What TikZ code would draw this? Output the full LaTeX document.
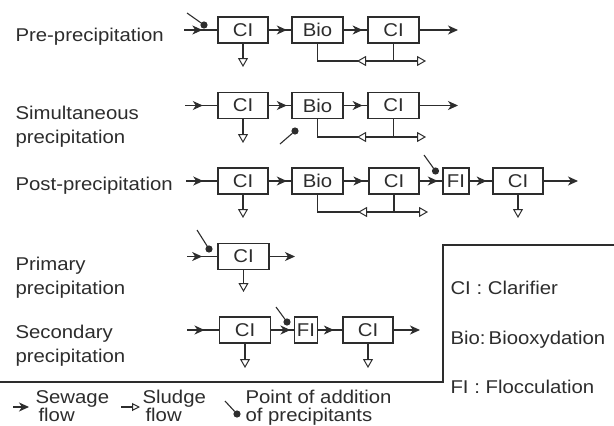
\documentclass[tikz,border=0pt]{standalone}
\usepackage{fontspec}
\setmainfont[FakeStretch=1.1]{Liberation Sans}
\usetikzlibrary{arrows.meta,decorations.markings}
\definecolor{ink}{RGB}{45,45,45}
\begin{document}
\begin{tikzpicture}[x=1pt,y=-1pt,draw=ink,line width=1.1pt,
  every node/.style={font=\fontsize{18.5}{22}\selectfont, text=ink},
  unit/.style={draw=ink, line width=1.3pt, minimum height=26pt, inner sep=0pt, minimum width=#1},
  unit/.default=50pt,
  lbl/.style={anchor=base west, inner sep=0pt},
  sew/.style={postaction={decorate}, decoration={markings, mark=at position #1 with {\arrow{Stealth[length=10pt,width=9pt,inset=3pt]}}}},
  sew/.default=0.7,
  sewend/.style={-{Stealth[length=10pt,width=9pt,inset=3pt]}},
  slend/.style={-{Triangle[length=9pt,width=10pt,fill=white,line width=1pt]}},
  slmid/.style={postaction={decorate}, decoration={markings, mark=at position #1 with {\arrow{Triangle[length=9pt,width=10pt,fill=white,line width=1pt]}}}},
  dot/.style={circle, fill=ink, draw=ink, inner sep=0pt, minimum size=6pt},
]
\useasboundingbox[fill=white] (0,0) rectangle (614,426);

% ---------- Row 1: Pre-precipitation
\node[lbl] (t1) at (15,41) {Pre-precipitation};
\node[unit] (a1) at (243,30) {CI};
\node[unit=51pt] (b1) at (317.5,30) {Bio};
\node[unit=51pt] (c1) at (393.5,30) {CI};
\coordinate (i1) at (184,30);
\coordinate (o1) at (458,30);
\draw[sew=0.55] (i1) -- (a1);
\draw[sew=0.8] (a1) -- (b1);
\draw[sew=0.8] (b1) -- (c1);
\draw[sewend] (c1) -- (o1);
\coordinate (s1) at (243,67);
\draw[slend] (a1) -- (s1);
\coordinate (k1) at (317.5,61);
\coordinate (j1) at (393.5,61);
\coordinate (r1) at (426,61);
\draw (c1.south) -- (j1);
\draw[slmid=36.5pt] (j1) -- (k1) -- (b1.south);
\draw[slend] (j1) -- (r1);
\coordinate (p1) at (187,13);
\node[dot] (d1) at (204,25) {};
\draw (p1) -- (d1);

% ---------- Row 2: Simultaneous precipitation
\node[lbl] (t2a) at (15,119) {Simultaneous};
\node[lbl] (t2b) at (15,143) {precipitation};
\node[unit] (a2) at (243,105.5) {CI};
\node[unit=51pt] (b2) at (317.5,105.5) {Bio};
\node[unit=51pt] (c2) at (393.5,105.5) {CI};
\coordinate (i2) at (185,105.5);
\coordinate (o2) at (458,105.5);
\draw[sew=0.55] (i2) -- (a2);
\draw[sew=0.8] (a2) -- (b2);
\draw[sew=0.8] (b2) -- (c2);
\draw[sewend] (c2) -- (o2);
\coordinate (s2) at (243,143);
\draw[slend] (a2) -- (s2);
\coordinate (k2) at (317.5,137);
\coordinate (j2) at (393.5,137);
\coordinate (r2) at (426,137);
\draw (c2.south) -- (j2);
\draw[slmid=36.5pt] (j2) -- (k2) -- (b2.south);
\draw[slend] (j2) -- (r2);
\coordinate (p2) at (280,144);
\node[dot] (d2) at (295,131) {};
\draw (p2) -- (d2);

% ---------- Row 3: Post-precipitation
\node[lbl] (t3) at (15,190) {Post-precipitation};
\node[unit] (a3) at (243,181) {CI};
\node[unit=51pt] (b3) at (317.5,181) {Bio};
\node[unit] (c3) at (394,181) {CI};
\node[unit=26pt] (f3) at (456,181) {FI};
\node[unit] (e3) at (518,181) {CI};
\coordinate (i3) at (186,181);
\coordinate (o3) at (578,181);
\draw[sew=0.55] (i3) -- (a3);
\draw[sew=0.8] (a3) -- (b3);
\draw[sew=0.8] (b3) -- (c3);
\draw[sew=0.8] (c3) -- (f3);
\draw[sew=0.75] (f3) -- (e3);
\draw[sewend] (e3) -- (o3);
\coordinate (s3) at (243,218);
\draw[slend] (a3) -- (s3);
\coordinate (u3) at (518,218);
\draw[slend] (e3) -- (u3);
\coordinate (k3) at (317.5,212);
\coordinate (j3) at (394,212);
\coordinate (r3) at (428,212);
\draw (c3.south) -- (j3);
\draw[slmid=36pt] (j3) -- (k3) -- (b3.south);
\draw[slend] (j3) -- (r3);
\coordinate (p3) at (424,155);
\node[dot] (d3) at (435.5,171) {};
\draw (p3) -- (d3);

% ---------- Row 4: Primary precipitation
\node[lbl] (t4a) at (15,270) {Primary};
\node[lbl] (t4b) at (15,294) {precipitation};
\node[unit=51pt] (a4) at (243.5,256.5) {CI};
\coordinate (i4) at (187,256.5);
\coordinate (o4) at (295,256.5);
\draw[sew=0.5] (i4) -- (a4);
\draw[sewend] (a4) -- (o4);
\coordinate (s4) at (243.5,292);
\draw[slend] (a4) -- (s4);
\coordinate (p4) at (197,230);
\node[dot] (d4) at (209,249) {};
\draw (p4) -- (d4);

% ---------- Row 5: Secondary precipitation
\node[lbl] (t5a) at (15,338) {Secondary};
\node[lbl] (t5b) at (15,362) {precipitation};
\node[unit=51pt] (a5) at (245,330) {CI};
\node[unit=23pt] (f5) at (306,330) {FI};
\node[unit] (e5) at (368,330) {CI};
\coordinate (i5) at (187,330);
\coordinate (o5) at (420,330);
\draw[sew=0.55] (i5) -- (a5);
\draw[sew=0.85] (a5) -- (f5);
\draw[sew=0.65] (f5) -- (e5);
\draw[sewend] (e5) -- (o5);
\coordinate (s5) at (245,368);
\draw[slend] (a5) -- (s5);
\coordinate (u5) at (368,368);
\draw[slend] (e5) -- (u5);
\coordinate (p5) at (276,307);
\node[dot] (d5) at (287,322) {};
\draw (p5) -- (d5);

% ---------- Frame
\coordinate (fa) at (0,382);
\coordinate (fb) at (443,382);
\coordinate (fc) at (443,245);
\coordinate (fd) at (614,245);
\draw[line width=1.3pt] (fa) -- (fb) -- (fc) -- (fd);

% ---------- Abbreviations
\node[lbl] (g1) at (450,294) {CI : Clarifier};
\node[lbl] (g2) at (450,344) {Bio:\,Biooxydation};
\node[lbl] (g3) at (450,393) {FI : Flocculation};

% ---------- Legend
\coordinate (la) at (13,407);
\coordinate (lb) at (29,407);
\draw[sewend] (la) -- (lb);
\node[lbl] (h1) at (35,403) {Sewage};
\node[lbl] (h2) at (38,421) {flow};
\coordinate (lc) at (121,407);
\coordinate (ld) at (140,407);
\draw[-{Triangle[length=8pt,width=8pt,fill=white,line width=1pt]}] (lc) -- (ld);
\node[lbl] (h3) at (142,403) {Sludge};
\node[lbl] (h4) at (145,421) {flow};
\coordinate (lp) at (225,401);
\node[dot] (ldot) at (237,414) {};
\draw (lp) -- (ldot);
\node[lbl] (h5) at (245,403) {Point of addition};
\node[lbl] (h6) at (245,421) {of precipitants};
\end{tikzpicture}
\end{document}
